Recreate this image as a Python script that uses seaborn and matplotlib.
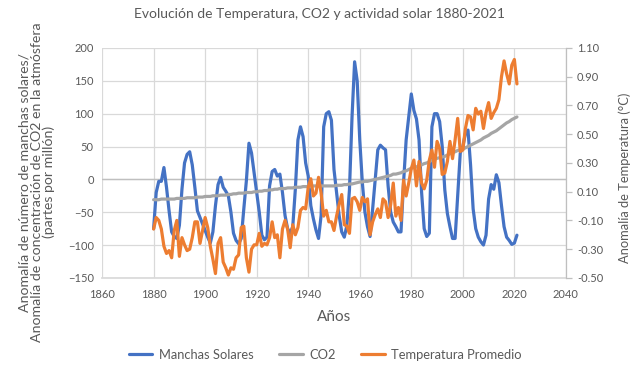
import matplotlib
matplotlib.use("Agg")
import matplotlib.pyplot as plt
import seaborn as sns
import pandas as pd

# datos anuales 1880-2021
years = list(range(1880, 2022))

manchas_solares = [
    -75, -20, -3, -3, 18, -12, -48, -80, -87, -90,
    -70, -15, 25, 38, 42, 22, -12, -48, -58, -68,
    -78, -88, -97, -80, -40, -8, 3, -12, -18, -25,
    -50, -82, -93, -98, -90, -45, -2, 55, 40, 10,
    -20, -50, -85, -92, -88, -10, 12, 15, 5, 8,
    -20, -55, -75, -82, -72, -15, 60, 80, 65, 25,
    5, -40, -60, -77, -90, -55, 80, 100, 103, 90,
    15, -20, -55, -80, -88, -70, -16, 95, 179, 150,
    60, -5, -50, -72, -87, -45, 0, 45, 52, 48,
    45, -10, -50, -65, -72, -80, -80, -5, 60, 95,
    130, 105, 92, 60, -20, -75, -87, -82, 80, 100,
    100, 88, 50, -16, -52, -72, -90, -90, -25, 40,
    50, 70, 75, 22, -45, -75, -88, -95, -100, -85,
    -30, -8, -15, 7, -5, -40, -72, -88, -93, -99,
    -97, -85,
]

co2 = [
    -31, -31, -31, -30, -30, -30, -30, -30, -30, -29,
    -29, -29, -29, -28, -28, -28, -28, -27, -27, -27,
    -26, -26, -26, -25, -25, -25, -24, -24, -24, -23,
    -23, -22, -22, -21, -21, -21, -20, -20, -20, -19,
    -19, -18, -18, -17, -17, -16, -16, -15, -15, -14,
    -14, -14, -13, -13, -13, -12, -12, -12, -11, -11,
    -11, -11, -10, -10, -10, -10, -10, -10, -10, -10,
    -10, -9, -9, -9, -8, -8, -7, -7, -6, -5,
    -4, -4, -3, -3, -2, -1, 0, 1, 2, 3,
    4, 5, 6, 8, 8, 9, 10, 12, 13, 15,
    17, 18, 19, 21, 22, 24, 25, 27, 29, 31,
    32, 33, 34, 35, 37, 39, 41, 42, 44, 45,
    46, 48, 50, 52, 54, 56, 58, 60, 63, 65,
    67, 70, 72, 74, 77, 80, 83, 86, 88, 91,
    93, 95,
]

temperatura = [
    -0.16, -0.08, -0.10, -0.16, -0.28, -0.33, -0.31, -0.36, -0.17, -0.10,
    -0.35, -0.22, -0.27, -0.31, -0.30, -0.22, -0.11, -0.11, -0.26, -0.17,
    -0.08, -0.15, -0.28, -0.37, -0.47, -0.26, -0.22, -0.39, -0.43, -0.48,
    -0.43, -0.44, -0.36, -0.34, -0.15, -0.14, -0.36, -0.46, -0.30, -0.27,
    -0.27, -0.19, -0.28, -0.26, -0.27, -0.22, -0.11, -0.22, -0.20, -0.36,
    -0.16, -0.10, -0.16, -0.29, -0.13, -0.20, -0.15, -0.03, -0.01, -0.02,
    0.13, 0.19, 0.07, 0.09, 0.20, 0.09, -0.07, -0.03, -0.11, -0.11,
    -0.17, -0.07, 0.01, 0.08, -0.13, -0.14, -0.19, 0.05, 0.06, 0.03,
    -0.03, 0.06, 0.03, 0.05, -0.20, -0.11, -0.06, -0.02, -0.08, 0.05,
    0.03, -0.08, 0.01, 0.16, -0.07, -0.01, -0.10, 0.18, 0.07, 0.16,
    0.26, 0.32, 0.14, 0.31, 0.16, 0.12, 0.18, 0.32, 0.39, 0.27,
    0.45, 0.40, 0.22, 0.23, 0.31, 0.45, 0.33, 0.46, 0.61, 0.38,
    0.39, 0.54, 0.63, 0.62, 0.53, 0.68, 0.64, 0.66, 0.54, 0.65,
    0.72, 0.61, 0.65, 0.68, 0.74, 0.90, 1.01, 0.92, 0.85, 0.98,
    1.02, 0.85,
]

x_ticks = [1860, 1880, 1900, 1920, 1940, 1960, 1980, 2000, 2020, 2040]
y_ticks = [-150, -100, -50, 0, 50, 100, 150, 200]
y2_ticks = [-0.50, -0.30, -0.10, 0.10, 0.30, 0.50, 0.70, 0.90, 1.10]

df = pd.DataFrame({
    "Año": years,
    "Manchas Solares": manchas_solares,
    "CO2": co2,
    "Temperatura Promedio": temperatura,
})

sns.set_theme(style="whitegrid")
plt.rcParams["font.family"] = ["Lato", "DejaVu Sans"]

text_col = "#595959"
grid_col = "#D9D9D9"

fig, ax = plt.subplots(figsize=(6.38, 3.72), dpi=100)
fig.subplots_adjust(left=0.160, right=0.887, top=0.871, bottom=0.253)

sns.lineplot(data=df, x="Año", y="Manchas Solares", ax=ax, color="#4472C4",
             lw=2.3, label="Manchas Solares", legend=False)
sns.lineplot(data=df, x="Año", y="CO2", ax=ax, color="#A5A5A5",
             lw=2.3, label="CO2", legend=False)

ax2 = ax.twinx()
sns.lineplot(data=df, x="Año", y="Temperatura Promedio", ax=ax2, color="#ED7D31",
             lw=2.3, label="Temperatura Promedio", legend=False)

# ejes
ax.set_xlim(1860, 2040)
ax.set_xticks(x_ticks)
ax.set_ylim(-150, 200)
ax.set_yticks(y_ticks)
ax2.set_ylim(-0.5, 1.1)
ax2.set_yticks(y2_ticks)
ax2.set_yticklabels([f"{v:.2f}" for v in y2_ticks])

ax.grid(True, color=grid_col, lw=0.9)
ax2.grid(False)
ax.axhline(0, color="#BFBFBF", lw=1.0, zorder=1)

for s in ["top", "left", "right"]:
    ax.spines[s].set_visible(False)
    ax2.spines[s].set_visible(False)
ax.spines["bottom"].set_color(grid_col)
ax2.spines["bottom"].set_visible(False)
ax2.spines["right"].set_visible(True)
ax2.spines["right"].set_color("#BFBFBF")
ax2.spines["right"].set_linewidth(0.9)

ax.tick_params(axis="both", length=0, labelsize=8, labelcolor=text_col)
ax.tick_params(axis="y", pad=6)
ax.tick_params(axis="x", pad=8)
ax2.tick_params(axis="y", length=4, width=0.9, color="#BFBFBF", direction="out",
                right=True, labelsize=8, labelcolor=text_col, pad=4)

ax.set_xlabel("Años", fontsize=11, color=text_col, labelpad=7)
ax.set_ylabel("")
ax2.set_ylabel("")

# titulos de ejes verticales
fig.text(37 / 638, 1 - 182 / 372,
         "Anomalía de número de manchas solares/\n"
         "Anomalía de concentración de CO2 en la atmósfera\n"
         "(partes por millón)",
         rotation=90, ha="center", va="center", multialignment="center",
         rotation_mode="anchor", fontsize=10.2, linespacing=1.0, color=text_col)
fig.text(625 / 638, 1 - 178 / 372, "Anomalía de Temperatura (°C)",
         rotation=90, ha="center", va="center", rotation_mode="anchor",
         fontsize=9.3, color=text_col)

fig.text(320 / 638, 1 - 14 / 372, "Evolución de Temperatura, CO2 y actividad solar 1880-2021",
         ha="center", va="center", fontsize=10, color=text_col)

h1, l1 = ax.get_legend_handles_labels()
h2, l2 = ax2.get_legend_handles_labels()
fig.legend(h1 + h2, l1 + l2, loc="center", bbox_to_anchor=(0.51, 0.046), ncol=3,
           frameon=False, fontsize=9.3, labelcolor=text_col, handlelength=1.8,
           columnspacing=2.0, handletextpad=0.5)

fig.savefig("out.png", dpi=100)
